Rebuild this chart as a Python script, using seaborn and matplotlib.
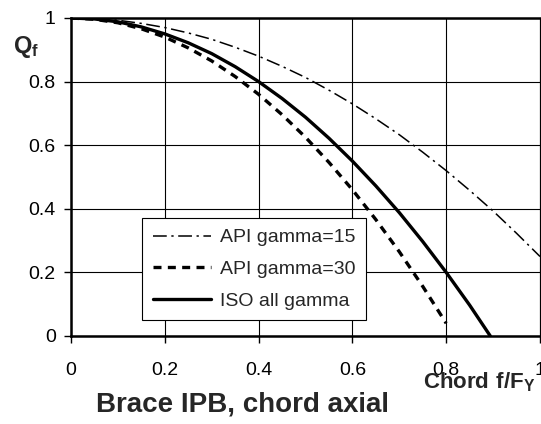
import numpy as np
import pandas as pd
import matplotlib
matplotlib.use("Agg")
import matplotlib.pyplot as plt
import seaborn as sns

# Chord stress ratio f/Fy and chord load factor Qf for each curve
x_api15 = [0.00, 0.05, 0.10, 0.15, 0.20, 0.25, 0.30, 0.35, 0.40, 0.45, 0.50,
           0.55, 0.60, 0.65, 0.70, 0.75, 0.80, 0.85, 0.90, 0.95, 1.00]
q_api15 = [1.000, 0.998, 0.993, 0.983, 0.970, 0.953, 0.933, 0.908, 0.880, 0.848, 0.813,
           0.773, 0.730, 0.683, 0.633, 0.578, 0.520, 0.458, 0.393, 0.323, 0.250]

x_api30 = [0.00, 0.05, 0.10, 0.15, 0.20, 0.25, 0.30, 0.35, 0.40, 0.45, 0.50,
           0.55, 0.60, 0.65, 0.70, 0.75, 0.80]
q_api30 = [1.000, 0.996, 0.985, 0.966, 0.940, 0.906, 0.865, 0.816, 0.760, 0.696, 0.625,
           0.546, 0.460, 0.366, 0.265, 0.156, 0.040]

x_iso = [0.00, 0.05, 0.10, 0.15, 0.20, 0.25, 0.30, 0.35, 0.40, 0.45, 0.50,
         0.55, 0.60, 0.65, 0.70, 0.75, 0.80, 0.85, 0.894]
q_iso = [1.000, 0.997, 0.988, 0.972, 0.950, 0.922, 0.888, 0.847, 0.800, 0.747, 0.688,
         0.622, 0.550, 0.472, 0.388, 0.297, 0.200, 0.097, 0.000]

labels = ["API gamma=15", "API gamma=30", "ISO all gamma"]
x_ticks = [0, 0.2, 0.4, 0.6, 0.8, 1]
y_ticks = [0, 0.2, 0.4, 0.6, 0.8, 1]
tick_text = ["0", "0.2", "0.4", "0.6", "0.8", "1"]

df = pd.concat([
    pd.DataFrame({"f": x_api15, "Q": q_api15, "curve": labels[0]}),
    pd.DataFrame({"f": x_api30, "Q": q_api30, "curve": labels[1]}),
    pd.DataFrame({"f": x_iso, "Q": q_iso, "curve": labels[2]}),
])

sns.set_style("white")
plt.rcParams["font.family"] = ["Liberation Sans", "DejaVu Sans"]
plt.rcParams["mathtext.fontset"] = "custom"
plt.rcParams["mathtext.bf"] = "Liberation Sans:bold"
plt.rcParams["mathtext.rm"] = "Liberation Sans"

fig = plt.figure(figsize=(5.41, 4.24), dpi=100)
ax = fig.add_axes([71 / 541, 88 / 424, 469 / 541, 318 / 424])

styles = {
    labels[0]: dict(lw=1.1, dashes=(9, 3, 1.5, 3)),
    labels[1]: dict(lw=2.4, dashes=(2.4, 1.9)),
    labels[2]: dict(lw=2.4, dashes=()),
}
for name in labels:
    sub = df[df["curve"] == name]
    st = styles[name]
    sns.lineplot(data=sub, x="f", y="Q", ax=ax, color="black",
                 lw=st["lw"], label=name, sort=False)
    ln = ax.get_lines()[-1]
    if st["dashes"]:
        ln.set_dashes(st["dashes"])

ax.set_xlim(0, 1)
ax.set_ylim(0, 1)
ax.set_xticks(x_ticks)
ax.set_xticklabels(tick_text)
ax.set_yticks(y_ticks)
ax.set_yticklabels(tick_text)
ax.grid(True, color="black", lw=0.8)
ax.set_axisbelow(True)
ax.set_xlabel("")
ax.set_ylabel("")

for side in ["left", "bottom", "top"]:
    ax.spines[side].set_linewidth(1.8)
    ax.spines[side].set_color("black")
ax.spines["right"].set_linewidth(0.8)
ax.spines["right"].set_color("black")

ax.tick_params(axis="both", which="major", labelsize=14, colors="black",
               direction="out", length=5, width=1.0)
ax.tick_params(axis="x", pad=14, bottom=True)
ax.tick_params(axis="y", pad=6, left=True)
for lab in ax.get_xticklabels():
    lab.set_clip_on(False)

leg = ax.legend(loc="upper left", fontsize=14, frameon=True, fancybox=False,
                framealpha=1, handlelength=3.0, handletextpad=0.45,
                labelspacing=0.72, borderpad=0.55, borderaxespad=0)
leg.get_frame().set_edgecolor("black")
leg.get_frame().set_linewidth(0.8)
leg.set_bbox_to_anchor(((142 - 71) / 469, (336 - 218) / 318), transform=ax.transAxes)

fig.text(13 / 541, 1 - 47 / 424, r"$\mathbf{Q_f}$", fontsize=17, ha="left", va="center")
fig.text(423 / 541, 1 - 388 / 424, r"$\mathbf{Chord\ f/F_Y}$", fontsize=16,
         ha="left", va="baseline")
fig.text(243 / 541, 1 - 405 / 424, "Brace IPB, chord axial", fontsize=20,
         fontweight="bold", ha="center", va="center")

fig.savefig("out.png", dpi=100)
